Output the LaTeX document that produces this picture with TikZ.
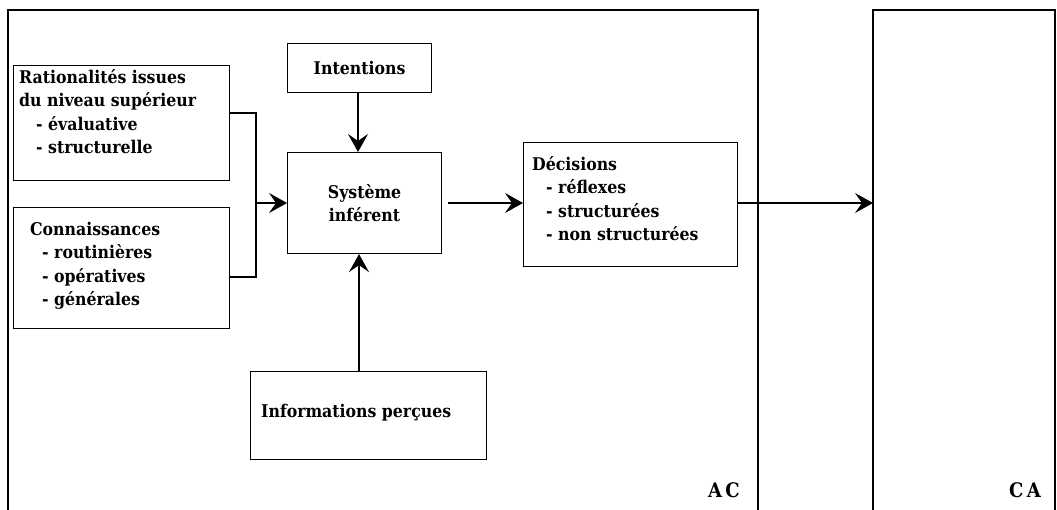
\documentclass[tikz,border=0pt]{standalone}
\usepackage{fontspec}
\setmainfont{DejaVu Serif Condensed}
\usetikzlibrary{arrows.meta}
\begin{document}
\begin{tikzpicture}[x=1pt,y=-1pt,
  box/.style={draw,line width=1.1pt,inner sep=0pt,anchor=north west},
  txt/.style={anchor=north west,align=left,inner sep=0pt,font=\fontsize{17.5}{23.5}\selectfont\bfseries},
  conn/.style={line width=1.1pt},
  arr/.style={line width=1.1pt,-{Stealth[length=18pt,width=20pt,inset=7pt]}}]
\useasboundingbox (0,0) rectangle (1057,510);
% outer frames
\coordinate (acbl) at (8,510);
\coordinate (actl) at (8,10);
\coordinate (actr) at (758,10);
\coordinate (acbr) at (758,510);
\draw[line width=1.3pt] (acbl) -- (actl) -- (actr) -- (acbr);
\coordinate (cabl) at (873,510);
\coordinate (catl) at (873,10);
\coordinate (catr) at (1055,10);
\coordinate (cabr) at (1055,510);
\draw[line width=1.3pt] (cabl) -- (catl) -- (catr) -- (cabr);
\node[txt,font=\fontsize{20}{22}\selectfont\bfseries,anchor=base east] (ac) at (740,497) {A\,C};
\node[txt,font=\fontsize{20}{22}\selectfont\bfseries,anchor=base east] (ca) at (1041,497) {C\,A};
% boxes
\node[box,minimum width=216pt,minimum height=115pt] (rat) at (13,65) {};
\node[txt] (rattxt) at (19,69) {Rationalités issues\\du niveau supérieur\\\hspace*{17pt}- évaluative\\\hspace*{17pt}- structurelle};
\node[box,minimum width=216pt,minimum height=121pt] (con) at (13,207) {};
\node[txt] (contxt) at (30,222) {Connaissances\\\hspace*{12pt}- routinières\\\hspace*{12pt}- opératives\\\hspace*{12pt}- générales};
\node[box,minimum width=144pt,minimum height=49pt] (int) at (287,43) {};
\node[txt,anchor=center] (inttxt) at (int.center) {Intentions};
\node[box,minimum width=154pt,minimum height=101pt] (sys) at (287,152) {};
\node[txt,anchor=center,align=center] (systxt) at (sys.center) {Système\\inférent};
\node[box,minimum width=214pt,minimum height=124pt] (dec) at (523,142) {};
\node[txt] (dectxt) at (532,156) {Décisions\\\hspace*{14pt}- réflexes\\\hspace*{14pt}- structurées\\\hspace*{14pt}- non structurées};
\node[box,minimum width=236pt,minimum height=88pt] (inf) at (250,371) {};
\node[txt,anchor=west] (inftxt) at (261,413) {Informations perçues};
% connectors
\coordinate (jn) at (256,203);
\draw[conn] (rat.east |- 0,113) -| (jn) |- (con.east |- 0,277);
\draw[arr] (jn) -- (sys.west |- jn);
\draw[arr] (int.south -| 358,0) -- (sys.north -| 358,0);
\draw[arr] (inf.north -| 359,0) -- (sys.south -| 359,0);
\draw[arr] (sys.east |- 0,203) ++(6,0) -- (dec.west |- 0,203);
\draw[arr] (dec.east |- 0,203) -- (catl |- 0,203);
\end{tikzpicture}
\end{document}
